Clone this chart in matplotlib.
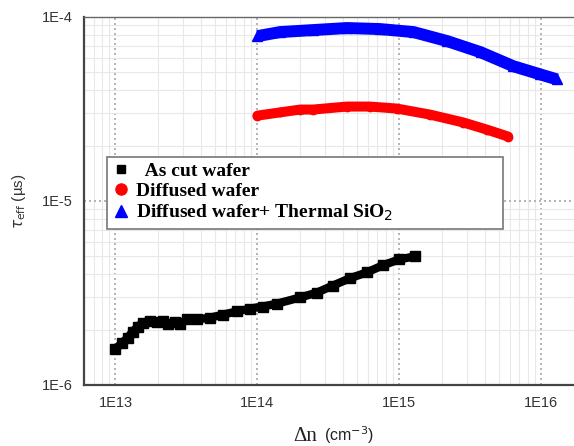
import numpy as np
import matplotlib
matplotlib.use("Agg")
import matplotlib.pyplot as plt
from matplotlib.lines import Line2D
from matplotlib.ticker import FuncFormatter, LogLocator, NullFormatter

# ---- data ----
ascut_dn = [1.0e13, 1.12e13, 1.22e13, 1.32e13, 1.43e13, 1.55e13, 1.74e13, 1.95e13,
            2.15e13, 2.33e13, 2.61e13, 2.83e13, 3.17e13, 3.73e13, 4.61e13, 5.69e13,
            7.14e13, 8.83e13, 1.09e14, 1.38e14, 2.0e14, 2.63e14, 3.4e14, 4.47e14,
            5.89e14, 7.64e14, 1.0e15, 1.29e15]
ascut_tau = [1.57e-6, 1.70e-6, 1.81e-6, 1.95e-6, 2.07e-6, 2.18e-6, 2.24e-6, 2.21e-6,
             2.24e-6, 2.15e-6, 2.21e-6, 2.15e-6, 2.27e-6, 2.27e-6, 2.32e-6, 2.41e-6,
             2.51e-6, 2.60e-6, 2.67e-6, 2.77e-6, 2.99e-6, 3.18e-6, 3.47e-6, 3.80e-6,
             4.09e-6, 4.47e-6, 4.82e-6, 5.0e-6]

diff_dn = [1.0e14, 1.44e14, 2.0e14, 2.46e14, 4.27e14, 6.2e14, 9.6e14, 1.64e15,
           2.83e15, 4.16e15, 5.84e15]
diff_tau = [2.91e-5, 3.03e-5, 3.14e-5, 3.14e-5, 3.26e-5, 3.26e-5, 3.18e-5, 2.95e-5,
            2.67e-5, 2.44e-5, 2.24e-5]

ox_dn = [1.0e14, 1.44e14, 2.46e14, 4.27e14, 7.3e14, 1.26e15, 2.18e15, 3.73e15,
         6.36e15, 9.8e15, 1.29e16]
ox_tau = [7.87e-5, 8.28e-5, 8.49e-5, 8.71e-5, 8.60e-5, 8.28e-5, 7.39e-5, 6.44e-5,
          5.40e-5, 4.88e-5, 4.58e-5]

labels = ["  As cut wafer", "Diffused wafer", "Diffused wafer+ Thermal SiO$_2$"]
x_ticks = [1e13, 1e14, 1e15, 1e16]
y_ticks = [1e-6, 1e-5, 1e-4]

# ---- figure ----
fig = plt.figure(figsize=(5.74, 4.46), dpi=100)
ax = fig.add_axes([84/574, 1-385/446, 490/574, 368/446])

ax.set_xscale("log")
ax.set_yscale("log")
ax.set_xlim(6e12, 1.7e16)
ax.set_ylim(1e-6, 1e-4)

ax.plot(ascut_dn, ascut_tau, color="black", lw=6, marker="s", ms=6.5,
        solid_capstyle="butt", solid_joinstyle="round", zorder=3)
ax.plot(diff_dn, diff_tau, color="#ff0000", lw=7.2, marker="o", ms=6,
        solid_capstyle="round", solid_joinstyle="round", zorder=3)
ax.plot(ox_dn, ox_tau, color="#0000ff", lw=8.6, marker="^", ms=7,
        solid_capstyle="butt", solid_joinstyle="round", zorder=3)

# grid
ax.xaxis.set_minor_locator(LogLocator(base=10, subs=np.arange(2, 10), numticks=20))
ax.yaxis.set_minor_locator(LogLocator(base=10, subs=np.arange(2, 10), numticks=20))
ax.set_xticks(x_ticks)
ax.set_yticks(y_ticks)
fmt = FuncFormatter(lambda v, p: "1E%d" % int(round(np.log10(v))))
ax.xaxis.set_major_formatter(fmt)
ax.yaxis.set_major_formatter(fmt)
ax.xaxis.set_minor_formatter(NullFormatter())
ax.yaxis.set_minor_formatter(NullFormatter())
ax.grid(True, which="major", color="#a8a8a8", ls=(0, (1.2, 1.8)), lw=1.2, zorder=1)
ax.grid(True, which="minor", color="#e8e8e8", ls="-", lw=0.8, zorder=0)
ax.set_axisbelow(True)

ax.tick_params(which="both", length=0)
ax.tick_params(which="major", labelsize=10.5, labelcolor="#333333", pad=8)
for lab in ax.get_xticklabels() + ax.get_yticklabels():
    lab.set_family("Liberation Sans")

for s in ["left", "bottom"]:
    ax.spines[s].set_color("#444444")
    ax.spines[s].set_linewidth(1.6)
ax.spines["top"].set_color("#666666")
ax.spines["top"].set_linewidth(1.0)
ax.spines["right"].set_visible(False)

# labels
ax.set_ylabel(r"$\tau_{\rm eff}$ (µs)", fontsize=11, family="Liberation Sans",
              color="#333333", labelpad=10)
fig.text(0.553, 0.012, "Δn", family="Liberation Serif", fontsize=15,
         color="#222222", ha="right", va="baseline")
fig.text(0.565, 0.012, "(cm$^{-3}$)", family="Liberation Sans", fontsize=11.5,
         color="#222222", ha="left", va="baseline")

# legend
handles = [
    Line2D([], [], color="black", marker="s", ls="none", ms=6),
    Line2D([], [], color="#ff0000", marker="o", ls="none", ms=8),
    Line2D([], [], color="#0000ff", marker="^", ls="none", ms=8),
]
leg = ax.legend(handles, labels, loc="upper left",
                bbox_to_anchor=(0.047, 0.421, 0.808, 0.199), mode="expand",
                prop={"family": "Liberation Serif", "weight": "bold", "size": 14},
                frameon=True, fancybox=False, framealpha=1, edgecolor="#777777",
                handlelength=0.8, handletextpad=0.4, labelspacing=0.12,
                borderpad=0.3, borderaxespad=0)
leg.get_frame().set_linewidth(1.2)
leg.set_zorder(5)

fig.savefig("out.png", dpi=100, facecolor="white")
